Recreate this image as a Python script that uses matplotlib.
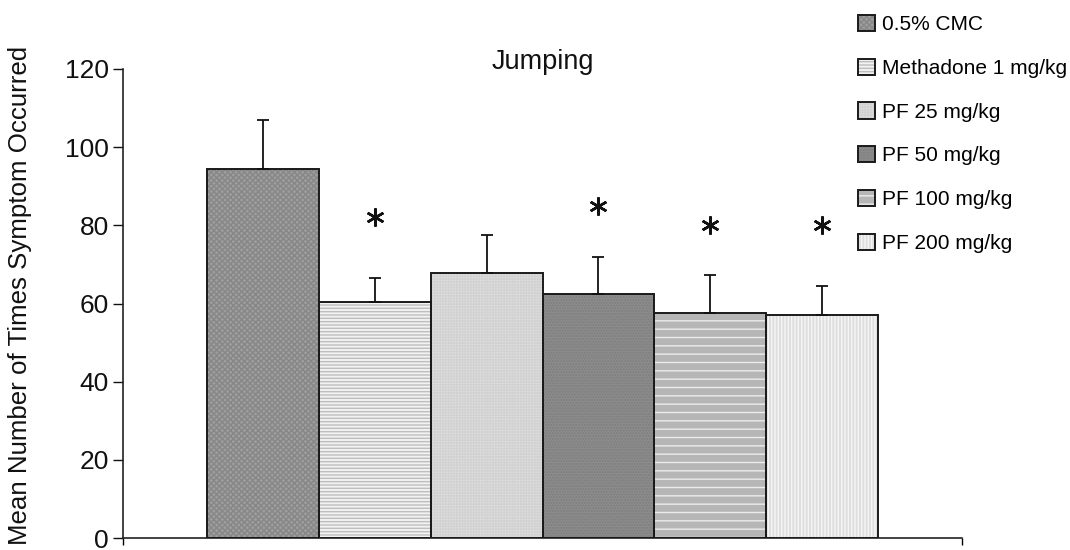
import matplotlib
matplotlib.use("Agg")
import matplotlib.pyplot as plt
from matplotlib.legend_handler import HandlerTuple

plt.rcParams['font.family'] = ['Liberation Sans', 'DejaVu Sans']
plt.rcParams['hatch.linewidth'] = 1.0

# ---- data ----
groups = ["0.5% CMC", "Methadone 1 mg/kg", "PF 25 mg/kg", "PF 50 mg/kg",
          "PF 100 mg/kg", "PF 200 mg/kg"]
means = [94.4, 60.5, 67.8, 62.5, 57.6, 57.1]
errors = [12.6, 6.1, 9.6, 9.4, 9.7, 7.5]
star_groups = ["Methadone 1 mg/kg", "PF 50 mg/kg", "PF 100 mg/kg", "PF 200 mg/kg"]
star_y = [82.2, 85.0, 80.1, 80.1]
yticks = [0, 20, 40, 60, 80, 100, 120]

# ---- styles ----
faces = ['#9e9e9e', '#f2f2f2', '#e2e2e2', '#8c8c8c', '#b6b6b6', '#dedede']
hatches = ['xxxxxx', '-----', '++++++', '......', '--', '|||||']
hatch_cols = ['#878787', '#bdbdbd', '#d2d2d2', '#7e7e7e', '#ececec', '#f6f6f6']

fig = plt.figure(figsize=(10.7, 5.5), dpi=100)
ax = fig.add_axes([123/1070, 12/550, (962-123)/1070, (538-69)/550])

x = list(range(len(groups)))
handles = []
for i in x:
    b1 = ax.bar(i, means[i], width=1.0, color=faces[i], hatch=hatches[i],
                edgecolor=hatch_cols[i], linewidth=0, zorder=2)
    b2 = ax.bar(i, means[i], width=1.0, fill=False, edgecolor='#1a1a1a',
                linewidth=1.4, zorder=3)
    handles.append((b1[0], b2[0]))

ax.errorbar(x, means, yerr=[[0]*len(x), errors], fmt='none', ecolor='#111111',
            elinewidth=1.3, capsize=4, capthick=1.3, zorder=4)

sx = [groups.index(g) for g in star_groups]
ax.plot(sx, star_y, linestyle='none', marker=(6, 2, 0), markersize=13,
        markeredgewidth=1.8, color='#111111', zorder=5)

ax.set_xlim(-1.25, 6.25)
ax.set_ylim(0, 120)
ax.set_yticks(yticks)
ax.set_xticks([-1.25, 6.25])
ax.set_xticklabels(['', ''])
ax.tick_params(axis='y', direction='out', length=7, width=1, pad=3,
               labelsize=19, colors='#111111')
ax.tick_params(axis='x', direction='out', length=5, width=1)
for s in ['top', 'right']:
    ax.spines[s].set_visible(False)
for s in ['left', 'bottom']:
    ax.spines[s].set_color('#222222')
    ax.spines[s].set_linewidth(1.2)

ax.set_ylabel("Mean Number of Times Symptom Occurred", fontsize=18.6, color='#111111')
ax.yaxis.set_label_coords(-0.108, 0.517)
ax.set_title("Jumping", fontsize=19.5, y=1.0, pad=0, color='#111111')

fig.legend(handles, groups, loc='upper left',
           bbox_to_anchor=(858/1070, 1 - 15/550), frameon=False,
           fontsize=15, borderpad=0, borderaxespad=0, handlelength=0.82,
           handleheight=0.82, handletextpad=0.35, labelspacing=1.17,
           handler_map={tuple: HandlerTuple(ndivide=1, pad=0)})

fig.savefig("out.png", dpi=100)
